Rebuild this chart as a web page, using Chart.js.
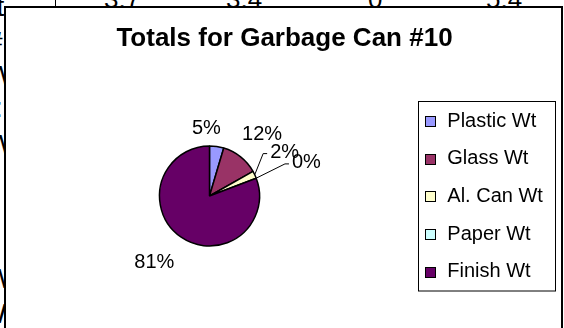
<!DOCTYPE html>
<html>
<head>
<meta charset="utf-8">
<script src="https://cdn.jsdelivr.net/npm/chart.js@4/dist/chart.umd.min.js"></script>
<style>
  body { margin: 0; width: 564px; height: 328px; overflow: hidden; background: #fff; position: relative;
         font-family: "Liberation Sans", Arial, sans-serif; }
  .cell { position: absolute; font-size: 26px; line-height: 26px; color: #000; white-space: nowrap; }
  .big { font-size: 28px; line-height: 28px; }
  #gridline { position: absolute; left: 55px; top: 0; width: 1px; height: 8px; background: #000; }
  #frame { position: absolute; left: 4px; top: 6px; width: 555px; height: 340px; border: 2px solid #000; background: #fff; }
  #frame canvas { display: block; }
</style>
</head>
<body>
<!-- worksheet cells showing around the embedded chart -->
<div class="cell" style="left:104px;top:-14px">3.7</div>
<div class="cell" style="left:226px;top:-14px">3.4</div>
<div class="cell" style="left:368px;top:-14px">0</div>
<div class="cell" style="left:486px;top:-14px">5.4</div>
<div id="gridline"></div>
<div class="cell big" style="left:-30px;top:-7px">Wt</div>
<div class="cell big" style="left:-13px;top:28px">#</div>
<div class="cell big" style="left:-13px;top:62px">W</div>
<div class="cell big" style="left:-5px;top:94px">:</div>
<div class="cell big" style="left:-13px;top:131px">W</div>
<div class="cell big" style="left:-14px;top:265px">W</div>
<div class="cell big" style="left:-20px;top:300px">W</div>

<div id="frame"><canvas id="pie" width="555" height="340"></canvas></div>

<script>
"use strict";

const chartTitle = "Totals for Garbage Can #10";
const categories = ["Plastic Wt", "Glass Wt", "Al. Can Wt", "Paper Wt", "Finish Wt"];
const weights = [4.6, 12.2, 2.4, 0, 80.8];
const sliceColors = ["#9999FF", "#993366", "#FFFFCC", "#CCFFFF", "#660066"];

// where each percentage sits relative to its slice, and which ones get a leader line
const labelNudge = [[-12, -6], [14, -13], [19, -17], [39, -11], [-20, 15]];
const leaderLine = [false, false, true, true, false];

const FONT = "'Liberation Sans', Arial, sans-serif";

// percent labels, title and the boxed legend
const annotate = {
    id: "annotate",
    afterDatasetsDraw(chart) {
        const ctx = chart.ctx;
        const meta = chart.getDatasetMeta(0);
        const total = weights.reduce((a, b) => a + b, 0);

        ctx.save();
        ctx.fillStyle = "#000";
        ctx.strokeStyle = "#000";
        ctx.lineWidth = 1;

        // slice percentages
        ctx.font = "20px " + FONT;
        ctx.textAlign = "center";
        ctx.textBaseline = "middle";
        meta.data.forEach((arc, i) => {
            const p = arc.getProps(["x", "y", "startAngle", "endAngle", "outerRadius"], true);
            const mid = (p.startAngle + p.endAngle) / 2;
            const tx = p.x + Math.cos(mid) * (p.outerRadius + 12) + labelNudge[i][0];
            const ty = p.y + Math.sin(mid) * (p.outerRadius + 12) + labelNudge[i][1];
            const text = Math.round(weights[i] / total * 100) + "%";
            if (leaderLine[i]) {
                const left = tx - ctx.measureText(text).width / 2;
                ctx.beginPath();
                ctx.moveTo(p.x + Math.cos(mid) * p.outerRadius, p.y + Math.sin(mid) * p.outerRadius);
                ctx.lineTo(left - 7, ty + 1);
                ctx.lineTo(left - 3, ty + 1);
                ctx.stroke();
            }
            ctx.fillText(text, tx, ty);
        });

        // title
        ctx.font = "bold 26px " + FONT;
        ctx.textBaseline = "alphabetic";
        ctx.fillText(chartTitle, 278.5, 37.7);

        // legend
        ctx.strokeRect(412.5, 93.5, 137, 189.5);
        ctx.font = "20px " + FONT;
        ctx.textAlign = "left";
        ctx.textBaseline = "middle";
        categories.forEach((name, i) => {
            const y = 113 + i * 37.7;
            ctx.fillStyle = sliceColors[i];
            ctx.fillRect(419.5, Math.round(y) - 4.5, 10, 10);
            ctx.strokeRect(419.5, Math.round(y) - 4.5, 10, 10);
            ctx.fillStyle = "#000";
            ctx.fillText(name, 441.3, y);
        });
        ctx.restore();
    }
};

new Chart(document.getElementById("pie"), {
    type: "pie",
    data: {
        labels: categories,
        datasets: [{
            data: weights,
            backgroundColor: sliceColors,
            borderColor: "#000",
            borderWidth: 1.5,
            radius: 50
        }]
    },
    options: {
        responsive: false,
        animation: false,
        events: [],
        layout: { padding: { left: 100, right: 248, top: 100, bottom: 64 } },
        plugins: {
            legend: { display: false },
            title: { display: false },
            tooltip: { enabled: false }
        }
    },
    plugins: [annotate]
});
</script>
</body>
</html>
